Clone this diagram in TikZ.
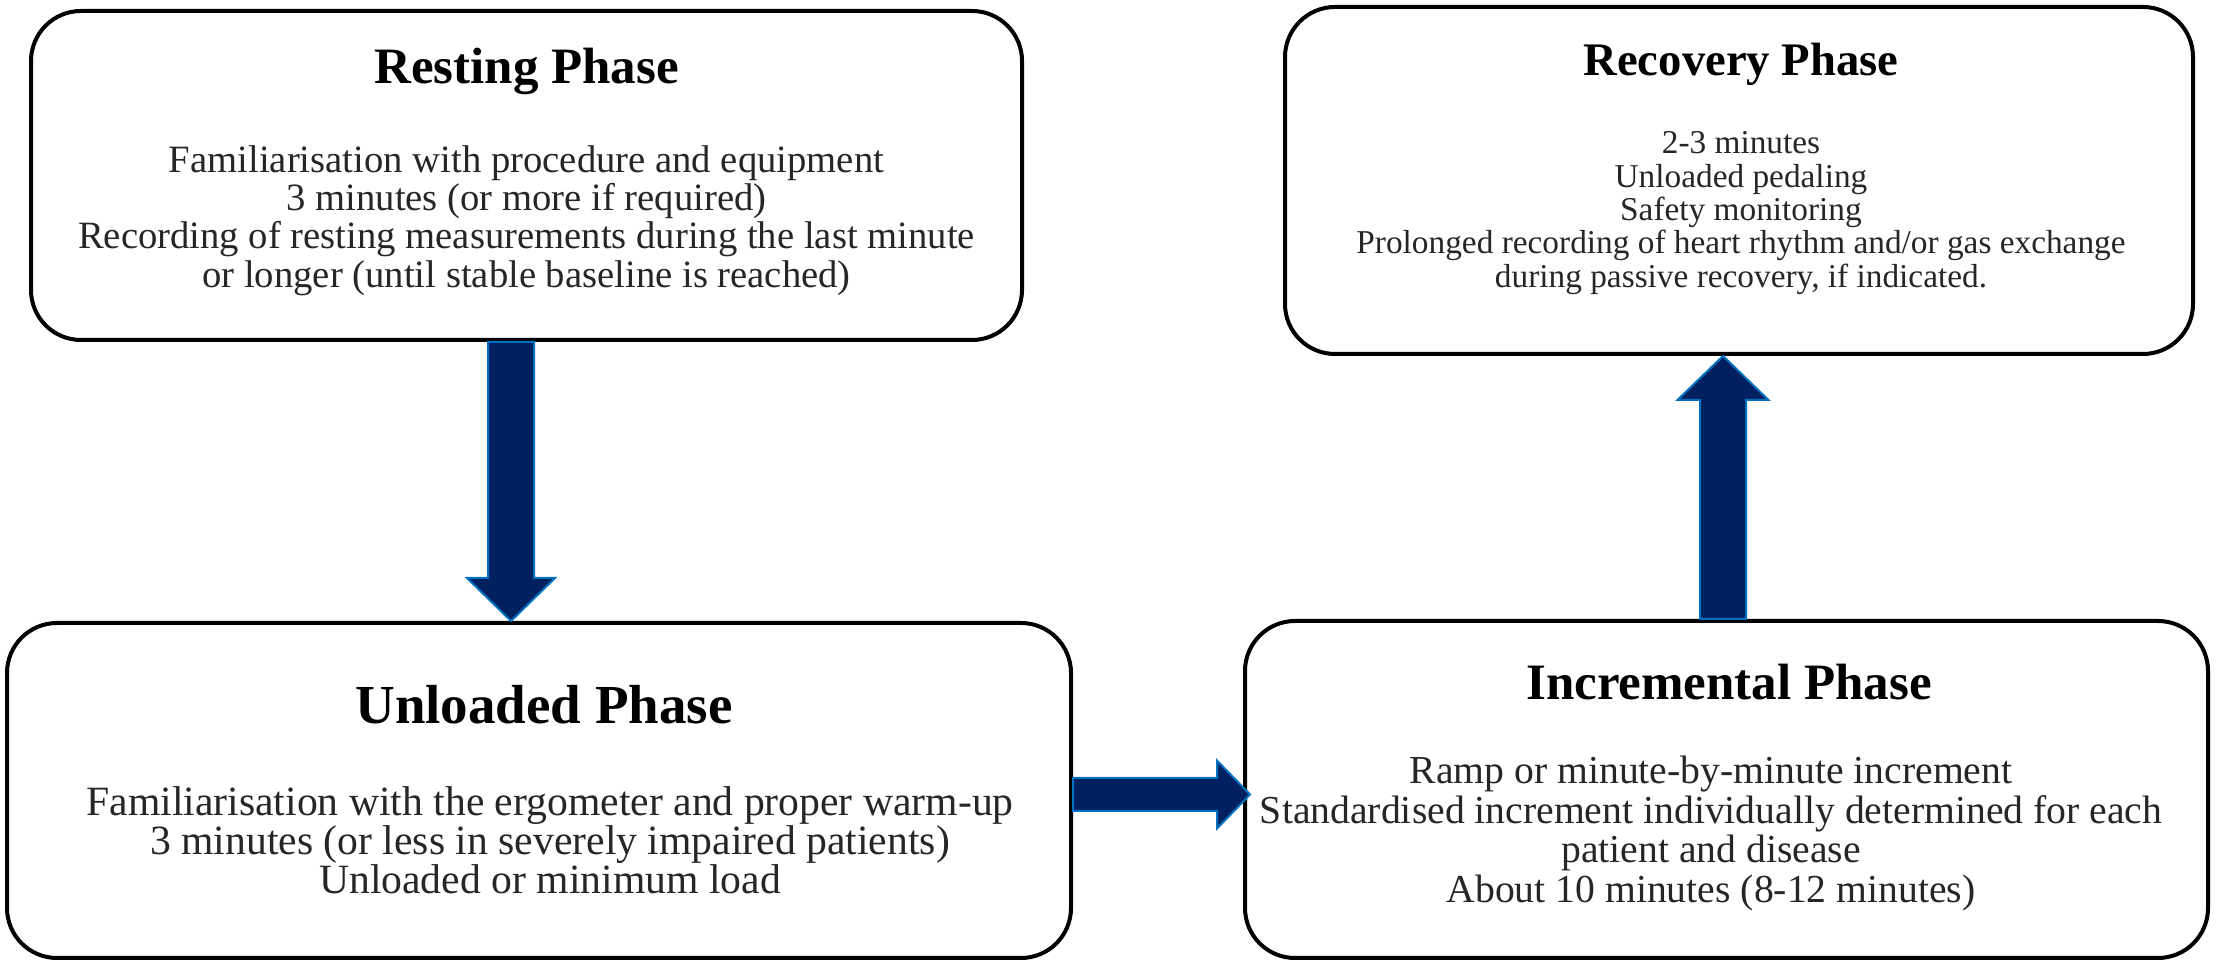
\documentclass[tikz,border=0pt]{standalone}
\usepackage{fontspec}
\setmainfont{Liberation Serif}
\usetikzlibrary{calc}
\definecolor{navy}{HTML}{002060}
\definecolor{arrowedge}{HTML}{0070C0}
\newcommand\fatarrow[5]{%
  \coordinate (fa-h) at ($(#2)!#5!(#1)$);
  \draw[bigarrow] ($(#1)!#3!90:(#2)$) -- ($(fa-h)!#3!90:(#2)$) -- ($(fa-h)!#4!90:(#2)$) -- (#2)
    -- ($(fa-h)!#4!-90:(#2)$) -- ($(fa-h)!#3!-90:(#2)$) -- ($(#1)!#3!-90:(#2)$) -- cycle;
}
\begin{document}
\begin{tikzpicture}[x=0.3pt,y=-0.3pt,
  phasebox/.style={draw=black, line width=1.2pt, rounded corners=15pt, fill=white, inner sep=0pt},
  ttl/.style={font=\bfseries\fontsize{#1}{#1}\selectfont, inner sep=0pt},
  body/.style 2 args={font=\fontsize{#1}{#2}\selectfont, align=center, inner sep=0pt, text=black!85},
  bigarrow/.style={fill=navy, draw=arrowedge, line width=0.6pt, line join=miter}]
\useasboundingbox[fill=white] (0,0) rectangle (2219,962);
% boxes
\node[phasebox, minimum width=991*0.3pt, minimum height=329*0.3pt] (rest) at (526.5,175.5) {};
\node[phasebox, minimum width=1064*0.3pt, minimum height=335*0.3pt] (unl) at (539,790.5) {};
\node[phasebox, minimum width=963*0.3pt, minimum height=337*0.3pt] (inc) at (1726.5,789.5) {};
\node[phasebox, minimum width=908*0.3pt, minimum height=347*0.3pt] (rec) at (1739,180.5) {};
% texts
\node[ttl=15.3] (restT) at (526.5,71) {Resting Phase};
\node[body={11.6}{11.5}] (restB) at (526.5,220.5) {Familiarisation with procedure and equipment\\3 minutes (or more if required)\\Recording of resting measurements during the last minute\\or longer (until stable baseline is reached)};
\node[ttl=16.5] (unlT) at (544,705) {Unloaded Phase};
\node[body={12.5}{11.7}] (unlB) at (550,840) {Familiarisation with the ergometer and proper warm-up\\3 minutes (or less in severely impaired patients)\\Unloaded or minimum load};
\node[ttl=15.3] (incT) at (1729,682) {Incremental Phase};
\node[body={11.9}{11.9}] (incB) at (1711,833.5) {Ramp or minute-by-minute increment\\Standardised increment individually determined for each\\patient and disease\\About 10 minutes (8-12 minutes)};
\node[ttl=14] (recT) at (1741,64) {Recovery Phase};
\node[body={10}{10}] (recB) at (1741,213) {2-3 minutes\\Unloaded pedaling\\Safety monitoring\\Prolonged recording of heart rhythm and/or gas exchange\\during passive recovery, if indicated.};
% arrows
\coordinate (a1s) at ($(rest.south)+(-15.5,0)$);
\coordinate (a1e) at (a1s |- unl.north);
\fatarrow{a1s}{a1e}{6.9pt}{13.2pt}{12.9pt}
\coordinate (a2s) at ($(unl.east)+(0,4)$);
\coordinate (a2e) at ($(a2s -| inc.west)+(7,0)$);
\fatarrow{a2s}{a2e}{4.95pt}{10.2pt}{9.9pt}
\coordinate (a3s) at ($(inc.north)+(-3.5,0)$);
\coordinate (a3e) at (a3s |- rec.south);
\fatarrow{a3s}{a3e}{6.9pt}{13.65pt}{13.2pt}
\end{tikzpicture}
\end{document}
